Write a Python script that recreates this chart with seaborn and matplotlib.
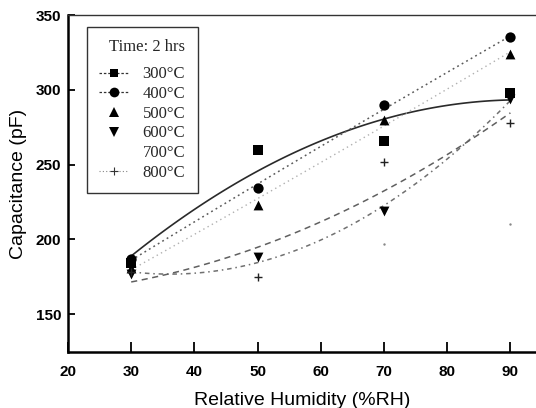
import numpy as np
import pandas as pd
import matplotlib
matplotlib.use("Agg")
import matplotlib.pyplot as plt
from matplotlib.lines import Line2D
import seaborn as sns

# ---- data ----
humidity = [30, 50, 70, 90]
c300 = [184, 260, 266, 298]
c400 = [187, 234, 290, 335]
c500 = [181, 223, 280, 324]
c600 = [177, 188, 219, 294]
c700 = [np.nan, np.nan, 197, 210]
c800 = [178, 175, 252, 278]
labels = ["300°C", "400°C", "500°C", "600°C", "700°C", "800°C"]
x_ticks = [20, 30, 40, 50, 60, 70, 80, 90]
y_ticks = [150, 200, 250, 300, 350]

sns.set_theme(style="white")
plt.rcParams["font.family"] = ["Liberation Sans", "DejaVu Sans"]

fig = plt.figure(figsize=(5.36, 4.08), dpi=100)
ax = fig.add_axes([68/536, 56/408, 1 - 68/536, 337/408])

series = [c300, c400, c500, c600, c700, c800]
markers = ["s", "o", "^", "v", ".", "+"]
sizes = [42, 55, 50, 50, 3, 40]
line_styles = [
    dict(color="#2a2a2a", lw=1.2, ls="-"),
    dict(color="#5a5a5a", lw=1.1, ls=(0, (1.2, 2.2))),
    dict(color="#b0b0b0", lw=1.0, ls=(0, (1.0, 2.5))),
    dict(color="#707070", lw=1.1, ls=(0, (3, 2.5, 1, 2.5))),
    None,
    dict(color="#606060", lw=1.1, ls=(0, (4, 3))),
]

for vals, mk, sz, lsd, lab in zip(series, markers, sizes, line_styles, labels):
    df = pd.DataFrame({"x": humidity, "y": vals}).dropna()
    if lsd is not None:
        sns.regplot(data=df, x="x", y="y", order=2, ci=None, scatter=False,
                    truncate=True, ax=ax,
                    line_kws=dict(color=lsd["color"], lw=lsd["lw"], linestyle=lsd["ls"]))
    if mk == "+":
        sns.scatterplot(data=df, x="x", y="y", marker="+", s=sz, color="#222222",
                        linewidth=1.0, ax=ax, zorder=5)
    elif mk == ".":
        sns.scatterplot(data=df, x="x", y="y", marker="o", s=sz, color="#888888",
                        linewidth=0, ax=ax, zorder=5)
    else:
        sns.scatterplot(data=df, x="x", y="y", marker=mk, s=sz, color="black",
                        linewidth=0, ax=ax, zorder=5)

ax.set_xlim(20, 94.05)
ax.set_ylim(124.6, 350)
ax.set_xticks(x_ticks)
ax.set_yticks(y_ticks)
ax.set_xticklabels([str(t) for t in x_ticks], fontsize=11, fontweight="bold")
ax.set_yticklabels([str(t) for t in y_ticks], fontsize=11, fontweight="bold")
ax.tick_params(axis="x", direction="in", length=7, width=1.3, pad=9, colors="black")
ax.tick_params(axis="y", direction="in", length=5, width=1.3, pad=5, colors="black")
ax.tick_params(axis="both", bottom=True, left=True, top=False, right=False)

ax.set_xlabel("Relative Humidity (%RH)", fontsize=14, labelpad=10, color="black")
ax.set_ylabel("Capacitance (pF)", fontsize=14, labelpad=6, color="black")

for side in ["left", "bottom"]:
    ax.spines[side].set_visible(True)
    ax.spines[side].set_linewidth(1.8)
    ax.spines[side].set_color("black")
ax.spines["top"].set_visible(True)
ax.spines["top"].set_linewidth(1.0)
ax.spines["top"].set_color("#333333")
ax.spines["right"].set_visible(False)

handles = [
    Line2D([], [], color="#333333", ls=(0, (2, 1.5)), lw=0.9, marker="s", markersize=6, markerfacecolor="black", markeredgewidth=0),
    Line2D([], [], color="#333333", ls=(0, (2, 1.5)), lw=0.9, marker="o", markersize=7, markerfacecolor="black", markeredgewidth=0),
    Line2D([], [], ls="none", marker="^", markersize=7, color="black", markeredgewidth=0),
    Line2D([], [], ls="none", marker="v", markersize=7, color="black", markeredgewidth=0),
    Line2D([], [], ls="none", marker=None, color="white"),
    Line2D([], [], color="#888888", ls=(0, (1, 2)), lw=0.8, marker="+", markersize=6, markeredgecolor="#333333", markeredgewidth=0.8),
]
leg = ax.legend(handles, labels, title="Time: 2 hrs", loc="upper left",
                bbox_to_anchor=(0.04, 0.965), borderaxespad=0, frameon=True,
                fancybox=False, handlelength=1.8, handletextpad=0.8,
                labelspacing=0.22, borderpad=0.75,
                prop=dict(family="Liberation Serif", size=12),
                title_fontproperties=dict(family="Liberation Serif", size=12))
leg._legend_box.sep = 8
leg._legend_box.align = "right"
leg.get_frame().set_edgecolor("black")
leg.get_frame().set_linewidth(1.0)

fig.savefig("out.png", dpi=100)
